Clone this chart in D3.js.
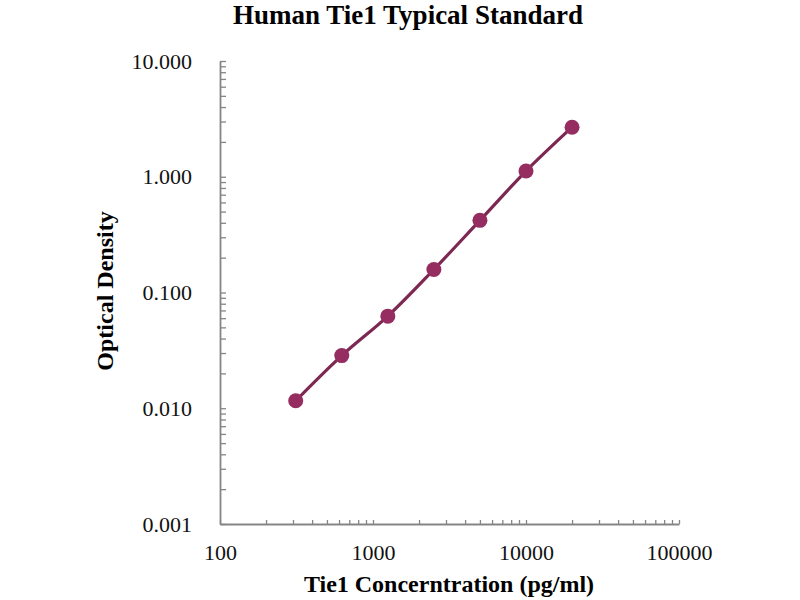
<!DOCTYPE html>
<html>
<head>
<meta charset="utf-8">
<script src="https://cdn.jsdelivr.net/npm/d3@7.9.0/dist/d3.min.js"></script>
<style>
  body { margin: 0; background: #fff; }
  text { font-family: "Liberation Serif", "Times New Roman", serif; }
  .axis path, .axis line { stroke: #858585; }
  .axis path { stroke-width: 1.8; }
  .axis line { stroke-width: 1.3; }
</style>
</head>
<body>
<svg id="chart" width="800" height="600"></svg>
<script>
// standard curve readings
const concentrations = [312.5, 625, 1250, 2500, 5000, 10000, 20000];
const densities = [0.0116, 0.0285, 0.0625, 0.158, 0.42, 1.12, 2.68];
const xDomain = [100, 100000];
const yDomain = [0.001, 10];
const xTickLabels = [100, 1000, 10000, 100000];
const yTickLabels = [0.001, 0.01, 0.1, 1, 10];

const svg = d3.select('#chart');
const m = {left: 220, right: 679, top: 61, bottom: 524};

const x = d3.scaleLog().domain(xDomain).range([m.left, m.right]);
const y = d3.scaleLog().domain(yDomain).range([m.bottom, m.top]);

const data = concentrations.map((c, i) => ({c, od: densities[i]}));

svg.append('text')
  .attr('x', 408).attr('y', 24)
  .attr('text-anchor', 'middle')
  .style('font-size', '27px').style('font-weight', 'bold')
  .text('Human Tie1 Typical Standard');

// x axis, ticks inward
const xAxis = d3.axisBottom(x)
  .tickValues(x.ticks())
  .tickSizeInner(-4).tickSizeOuter(0)
  .tickPadding(20)
  .tickFormat(d => xTickLabels.includes(d) ? String(d) : '');

svg.append('g')
  .attr('class', 'axis')
  .attr('transform', `translate(0,${m.bottom})`)
  .call(xAxis)
  .call(g => g.selectAll('text').style('font-size', '22px').style('fill', '#111'));

// y axis, ticks inward
const yAxis = d3.axisLeft(y)
  .tickValues(y.ticks())
  .tickSizeInner(-6).tickSizeOuter(0)
  .tickPadding(28)
  .tickFormat(d => yTickLabels.some(v => Math.abs(v - d) < 1e-9) ? d3.format('.3f')(d) : '');

svg.append('g')
  .attr('class', 'axis')
  .attr('transform', `translate(${m.left},0)`)
  .call(yAxis)
  .call(g => g.selectAll('text').style('font-size', '22px').style('fill', '#111'));

svg.append('text')
  .attr('x', 449).attr('y', 592)
  .attr('text-anchor', 'middle')
  .style('font-size', '24px').style('font-weight', 'bold')
  .text('Tie1 Concerntration (pg/ml)');

svg.append('text')
  .attr('transform', 'translate(113,291) rotate(-90)')
  .attr('text-anchor', 'middle')
  .style('font-size', '24px').style('font-weight', 'bold')
  .text('Optical Density');

const line = d3.line()
  .x(d => x(d.c))
  .y(d => y(d.od))
  .curve(d3.curveCatmullRom);

svg.append('path')
  .datum(data)
  .attr('d', line)
  .attr('fill', 'none')
  .attr('stroke', '#7d2853')
  .attr('stroke-width', 3.2);

svg.append('g')
  .selectAll('circle')
  .data(data)
  .join('circle')
  .attr('cx', d => x(d.c))
  .attr('cy', d => y(d.od))
  .attr('r', 7.5)
  .attr('fill', '#952d60');
</script>
</body>
</html>
